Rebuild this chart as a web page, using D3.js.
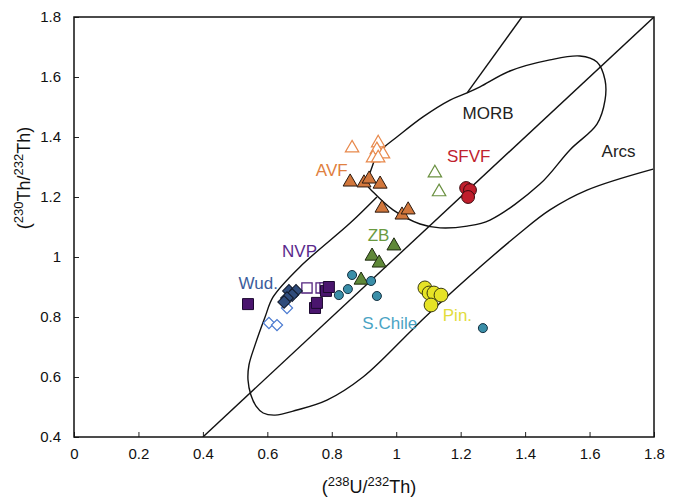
<!DOCTYPE html>
<html>
<head>
<meta charset="utf-8">
<script src="https://cdn.jsdelivr.net/npm/d3@7"></script>
<style>
  body { margin: 0; background: #fff; }
  text { font-family: "Liberation Sans", Arial, sans-serif; }
</style>
</head>
<body>
<div id="chart"></div>
<script>
// tick values
const xTicks = [0, 0.2, 0.4, 0.6, 0.8, 1, 1.2, 1.4, 1.6, 1.8];
const yTicks = [0.4, 0.6, 0.8, 1, 1.2, 1.4, 1.6, 1.8];

// field outlines (238U/232Th, 230Th/232Th)
const equiline = [[0.4, 0.4], [1.8, 1.8]];
const morbField = [
  [0.912, 1.257], [0.925, 1.300], [0.940, 1.340], [0.959, 1.363], [1.002, 1.400],
  [1.083, 1.467], [1.167, 1.523], [1.220, 1.547], [1.260, 1.567], [1.353, 1.620],
  [1.477, 1.657], [1.570, 1.670], [1.623, 1.650], [1.648, 1.590], [1.648, 1.523],
  [1.623, 1.443], [1.539, 1.357], [1.446, 1.243], [1.291, 1.123], [1.220, 1.103],
  [1.136, 1.097], [1.074, 1.110], [0.990, 1.157], [0.928, 1.217], [0.912, 1.237]
];
const arcsUpper = [[1.390, 1.800], [1.220, 1.547]];
const arcsLower = [
  [0.940, 1.200], [0.857, 1.113], [0.701, 0.967], [0.618, 0.867], [0.593, 0.800],
  [0.562, 0.707], [0.543, 0.640], [0.540, 0.590], [0.549, 0.540], [0.565, 0.503],
  [0.587, 0.480], [0.624, 0.473], [0.692, 0.490], [0.785, 0.523], [0.897, 0.600],
  [1.049, 0.757], [1.136, 0.847], [1.384, 1.080], [1.477, 1.157], [1.592, 1.223],
  [1.797, 1.293]
];

// samples
const avfOpen = [[0.863, 1.363], [0.944, 1.380], [0.940, 1.357], [0.959, 1.343], [0.928, 1.330], [0.944, 1.330]];
const avfFilled = [[0.857, 1.250], [0.900, 1.247], [0.916, 1.260], [0.950, 1.243], [0.956, 1.163], [1.018, 1.140], [1.037, 1.157]];
const zbFilled = [[0.993, 1.037], [0.925, 1.003], [0.947, 0.980], [0.891, 0.923]];
const zbOpen = [[1.120, 1.280], [1.133, 1.217]];
const sfvf = [[1.217, 1.230], [1.229, 1.223], [1.223, 1.200]];
const pin = [[1.089, 0.897], [1.102, 0.880], [1.117, 0.880], [1.139, 0.873], [1.108, 0.840]];
const sChile = [[0.863, 0.940], [0.850, 0.893], [0.822, 0.873], [0.922, 0.920], [0.940, 0.870], [1.269, 0.763]];
const nvpFilled = [[0.540, 0.843], [0.748, 0.830], [0.754, 0.847], [0.782, 0.887], [0.791, 0.900]];
const nvpOpen = [[0.723, 0.897], [0.767, 0.897], [0.779, 0.897]];
const wudFilled = [[0.667, 0.887], [0.689, 0.887], [0.677, 0.873], [0.661, 0.863], [0.652, 0.850]];
const wudOpen = [[0.661, 0.830], [0.605, 0.780], [0.630, 0.773]];

const width = 678;
const height = 498;
const margin = { top: 17, right: 24, bottom: 61, left: 74 };
const w = width - margin.left - margin.right;
const h = height - margin.top - margin.bottom;

const svg = d3.select("#chart").append("svg")
  .attr("width", width)
  .attr("height", height);

const g = svg.append("g").attr("transform", `translate(${margin.left},${margin.top})`);

const x = d3.scaleLinear().domain([0, 1.8]).range([0, w]);
const y = d3.scaleLinear().domain([0.4, 1.8]).range([h, 0]);

g.append("defs").append("clipPath").attr("id", "clip")
  .append("rect").attr("width", w).attr("height", h);

const plot = g.append("g").attr("clip-path", "url(#clip)");

const line = d3.line().x(d => x(d[0])).y(d => y(d[1]));
const smooth = d3.line().x(d => x(d[0])).y(d => y(d[1])).curve(d3.curveCatmullRom.alpha(0.5));
const closed = d3.line().x(d => x(d[0])).y(d => y(d[1])).curve(d3.curveCatmullRomClosed.alpha(0.5));

plot.append("path").attr("d", line(equiline));
plot.append("path").attr("d", closed(morbField));
plot.append("path").attr("d", line(arcsUpper));
plot.append("path").attr("d", smooth(arcsLower));
plot.selectAll("path").attr("fill", "none").attr("stroke", "#111").attr("stroke-width", 1.4);

// markers
function symbols(data, type, size, fill, stroke, sw, rot) {
  plot.append("g").selectAll("path")
    .data(data)
    .join("path")
    .attr("d", d3.symbol().type(type).size(size))
    .attr("transform", d => `translate(${x(d[0])},${y(d[1])})` + (rot ? ` rotate(${rot})` : ""))
    .attr("fill", fill)
    .attr("stroke", stroke)
    .attr("stroke-width", sw);
}

symbols(avfOpen, d3.symbolTriangle, 78, "#fff", "#e8894c", 1.2);
symbols(zbOpen, d3.symbolTriangle, 78, "#fff", "#6a9040", 1.2);
symbols(avfFilled, d3.symbolTriangle, 85, "#d2773c", "#2a1a10", 1);
symbols(zbFilled, d3.symbolTriangle, 85, "#5f8838", "#1e2a10", 1);
symbols(nvpOpen, d3.symbolSquare, 105, "#fff", "#52237e", 1.3);
symbols(nvpFilled, d3.symbolSquare, 121, "#4a156e", "#1c0830", 1);
symbols(wudOpen, d3.symbolSquare, 62, "#fff", "#4a7ad0", 1.2, 45);
symbols(wudFilled, d3.symbolSquare, 80, "#2f4c7c", "#111a2c", 1, 45);
symbols(sChile, d3.symbolCircle, 64, "#3a8ea8", "#123040", 1);
symbols(pin, d3.symbolCircle, 150, "#e6e326", "#3a3a10", 1);
symbols(sfvf, d3.symbolCircle, 130, "#c01e2c", "#3a0a0e", 1);

// field and group labels
const labels = [
  { t: "MORB", x: 1.285, y: 1.478, c: "#222" },
  { t: "Arcs", x: 1.69, y: 1.352, c: "#222" },
  { t: "SFVF", x: 1.225, y: 1.335, c: "#c0222e" },
  { t: "AVF", x: 0.80, y: 1.29, c: "#e08040" },
  { t: "ZB", x: 0.945, y: 1.073, c: "#6a9a40" },
  { t: "NVP", x: 0.70, y: 1.018, c: "#5a2a8c" },
  { t: "Wud.", x: 0.572, y: 0.912, c: "#3c5c9c" },
  { t: "S.Chile", x: 0.98, y: 0.78, c: "#4aa4c4" },
  { t: "Pin.", x: 1.19, y: 0.805, c: "#e2dc3c" }
];
g.append("g").selectAll("text")
  .data(labels)
  .join("text")
  .attr("x", d => x(d.x))
  .attr("y", d => y(d.y))
  .attr("text-anchor", "middle")
  .attr("dominant-baseline", "central")
  .attr("font-size", 17)
  .attr("fill", d => d.c)
  .text(d => d.t);

// axes
const xAxis = g.append("g").attr("transform", `translate(0,${h})`)
  .call(d3.axisBottom(x).tickValues(xTicks).tickFormat(d3.format("")).tickSizeInner(-5).tickSizeOuter(0).tickPadding(11));
const yAxis = g.append("g")
  .call(d3.axisLeft(y).tickValues(yTicks).tickFormat(d3.format("")).tickSizeInner(-5).tickSizeOuter(0).tickPadding(13));
[xAxis, yAxis].forEach(a => {
  a.select(".domain").remove();
  a.selectAll("line").attr("stroke", "#222");
  a.selectAll("text").attr("font-size", 15).attr("fill", "#111")
    .attr("font-family", "\"Liberation Sans\", Arial, sans-serif");
});

g.append("rect")
  .attr("width", w).attr("height", h)
  .attr("fill", "none").attr("stroke", "#111").attr("stroke-width", 1.5);

// axis titles
const xt = svg.append("text")
  .attr("x", margin.left + w / 2 + 5)
  .attr("y", 493)
  .attr("text-anchor", "middle")
  .attr("font-size", 18)
  .attr("fill", "#111");
xt.append("tspan").text("(");
xt.append("tspan").attr("dy", -7).attr("font-size", 13).text("238");
xt.append("tspan").attr("dy", 7).text("U/");
xt.append("tspan").attr("dy", -7).attr("font-size", 13).text("232");
xt.append("tspan").attr("dy", 7).text("Th)");

const yt = svg.append("text")
  .attr("transform", `translate(30,${margin.top + 161}) rotate(-90)`)
  .attr("text-anchor", "middle")
  .attr("font-size", 18)
  .attr("fill", "#111");
yt.append("tspan").text("(");
yt.append("tspan").attr("dy", -7).attr("font-size", 13).text("230");
yt.append("tspan").attr("dy", 7).text("Th/");
yt.append("tspan").attr("dy", -7).attr("font-size", 13).text("232");
yt.append("tspan").attr("dy", 7).text("Th)");
</script>
</body>
</html>
